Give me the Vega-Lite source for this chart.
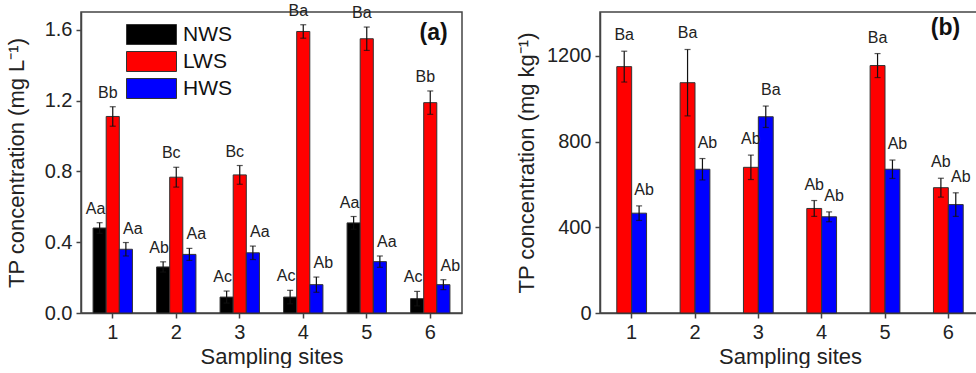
{
  "$schema": "https://vega.github.io/schema/vega-lite/v6.json",
  "padding": {"left": 4, "top": 1, "right": 0, "bottom": 0},
  "background": "white",
  "config": {
    "font": "Liberation Sans",
    "view": {"stroke": "#444", "strokeWidth": 1.5},
    "axis": {
      "labelFont": "Liberation Sans", "titleFont": "Liberation Sans",
      "labelFontSize": 20, "titleFontSize": 22, "titleFontWeight": "normal",
      "labelColor": "#222", "titleColor": "#222",
      "domainColor": "#444", "tickColor": "#444", "domainWidth": 1.5, "tickWidth": 1.5,
      "tickSize": 5, "labelPadding": 4, "grid": false
    },
    "concat": {"spacing": 51}
  },
  "datasets": {
    "a": [
      {"site": "1", "group": "NWS", "v": 0.48, "e": 0.03, "lab": "Aa"},
      {"site": "1", "group": "LWS", "v": 1.11, "e": 0.055, "lab": "Bb"},
      {"site": "1", "group": "HWS", "v": 0.36, "e": 0.038, "lab": "Aa"},
      {"site": "2", "group": "NWS", "v": 0.26, "e": 0.029, "lab": "Ab"},
      {"site": "2", "group": "LWS", "v": 0.767, "e": 0.056, "lab": "Bc"},
      {"site": "2", "group": "HWS", "v": 0.331, "e": 0.034, "lab": "Aa"},
      {"site": "3", "group": "NWS", "v": 0.09, "e": 0.034, "lab": "Ac"},
      {"site": "3", "group": "LWS", "v": 0.78, "e": 0.053, "lab": "Bc"},
      {"site": "3", "group": "HWS", "v": 0.34, "e": 0.038, "lab": "Aa"},
      {"site": "4", "group": "NWS", "v": 0.09, "e": 0.038, "lab": "Ac"},
      {"site": "4", "group": "LWS", "v": 1.59, "e": 0.038, "lab": "Ba"},
      {"site": "4", "group": "HWS", "v": 0.16, "e": 0.043, "lab": "Ab"},
      {"site": "5", "group": "NWS", "v": 0.509, "e": 0.036, "lab": "Aa"},
      {"site": "5", "group": "LWS", "v": 1.549, "e": 0.066, "lab": "Ba"},
      {"site": "5", "group": "HWS", "v": 0.29, "e": 0.032, "lab": "Aa"},
      {"site": "6", "group": "NWS", "v": 0.081, "e": 0.041, "lab": "Ac"},
      {"site": "6", "group": "LWS", "v": 1.188, "e": 0.066, "lab": "Bb"},
      {"site": "6", "group": "HWS", "v": 0.16, "e": 0.028, "lab": "Ab"}
    ],
    "b": [
      {"site": "1", "group": "LWS", "v": 1150, "e": 72, "lab": "Ba"},
      {"site": "1", "group": "HWS", "v": 466, "e": 34, "lab": "Ab"},
      {"site": "2", "group": "LWS", "v": 1075, "e": 155, "lab": "Ba"},
      {"site": "2", "group": "HWS", "v": 671, "e": 50, "lab": "Ab"},
      {"site": "3", "group": "LWS", "v": 680, "e": 57, "lab": "Ab"},
      {"site": "3", "group": "HWS", "v": 916, "e": 50, "lab": "Ba"},
      {"site": "4", "group": "LWS", "v": 488, "e": 37, "lab": "Ab"},
      {"site": "4", "group": "HWS", "v": 449, "e": 23, "lab": "Ab"},
      {"site": "5", "group": "LWS", "v": 1155, "e": 56, "lab": "Ba"},
      {"site": "5", "group": "HWS", "v": 671, "e": 43, "lab": "Ab"},
      {"site": "6", "group": "LWS", "v": 585, "e": 44, "lab": "Ab"},
      {"site": "6", "group": "HWS", "v": 506, "e": 55, "lab": "Ab"}
    ],
    "pa": [{"t": "(a)", "site": "6", "y": 1.58}],
    "pb": [{"t": "(b)", "site": "6", "y": 1330}]
  },
  "resolve": {"scale": {"color": "independent", "xOffset": "independent", "x": "independent", "y": "independent"}},
  "hconcat": [
    {
      "width": 381, "height": 301,
      "data": {"name": "a"},
      "transform": [
        {"calculate": "datum.v - datum.e", "as": "lo"},
        {"calculate": "datum.v + datum.e", "as": "hi"}
      ],
      "encoding": {
        "x": {"field": "site", "type": "nominal", "sort": ["1","2","3","4","5","6"],
              "scale": {"paddingInner": 0.38, "paddingOuter": 0.19},
              "axis": {"title": "Sampling sites", "labelAngle": 0, "titlePadding": 4}},
        "xOffset": {"field": "group", "type": "nominal", "sort": ["NWS","LWS","HWS"],
                    "scale": {"domain": ["NWS","LWS","HWS"], "paddingInner": 0, "paddingOuter": 0}}
      },
      "layer": [
        {
          "mark": {"type": "bar", "stroke": "#333", "strokeWidth": 1},
          "encoding": {
            "y": {"field": "v", "type": "quantitative",
                  "scale": {"domain": [0, 1.7], "nice": false},
                  "axis": {"title": "TP concentration (mg L⁻¹)", "values": [0, 0.4, 0.8, 1.2, 1.6], "format": ".1f", "titlePadding": 16}},
            "color": {"field": "group", "type": "nominal",
                      "scale": {"domain": ["NWS","LWS","HWS"], "range": ["#000000","#ff0000","#0000ff"]},
                      "legend": {"orient": "none", "legendX": 60, "legendY": 12, "title": null,
                                 "symbolType": "M-2.5,-1H2.5V1H-2.5Z", "symbolSize": 400,
                                 "symbolStrokeColor": "#333", "symbolStrokeWidth": 1, "symbolOpacity": 1,
                                 "labelFontSize": 21, "labelFont": "Liberation Sans", "labelColor": "#111",
                                 "rowPadding": 2, "labelOffset": 21}}
          }
        },
        {
          "mark": {"type": "rule", "color": "#111", "strokeWidth": 1.2},
          "encoding": {"y": {"field": "lo", "type": "quantitative"}, "y2": {"field": "hi"}}
        },
        {
          "mark": {"type": "tick", "color": "#111", "thickness": 1.2, "size": 6, "orient": "horizontal"},
          "encoding": {"y": {"field": "hi", "type": "quantitative"}}
        },
        {
          "mark": {"type": "tick", "color": "#111", "thickness": 1.2, "size": 6, "orient": "horizontal"},
          "encoding": {"y": {"field": "lo", "type": "quantitative"}}
        },
        {
          "transform": [{"filter": "datum.group == 'NWS'"}],
          "mark": {"type": "text", "fontSize": 16, "color": "#222", "dy": -9, "dx": -4, "baseline": "alphabetic"},
          "encoding": {"y": {"field": "hi", "type": "quantitative"}, "text": {"field": "lab"}}
        },
        {
          "transform": [{"filter": "datum.group == 'LWS'"}],
          "mark": {"type": "text", "fontSize": 16, "color": "#222", "dy": -9, "dx": -5, "baseline": "alphabetic"},
          "encoding": {"y": {"field": "hi", "type": "quantitative"}, "text": {"field": "lab"}}
        },
        {
          "transform": [{"filter": "datum.group == 'HWS'"}],
          "mark": {"type": "text", "fontSize": 16, "color": "#222", "dy": -9, "dx": 7, "baseline": "alphabetic"},
          "encoding": {"y": {"field": "hi", "type": "quantitative"}, "text": {"field": "lab"}}
        },
        {
          "data": {"name": "pa"},
          "mark": {"type": "text", "fontSize": 23, "fontWeight": "bold", "color": "#111", "dx": 23, "baseline": "middle"},
          "encoding": {
            "x": {"field": "site", "type": "nominal"},
            "xOffset": {"value": 0},
            "y": {"field": "y", "type": "quantitative"},
            "text": {"field": "t"}
          }
        }
      ]
    },
    {
      "width": 380, "height": 301,
      "data": {"name": "b"},
      "transform": [
        {"calculate": "datum.v - datum.e", "as": "lo"},
        {"calculate": "datum.v + datum.e", "as": "hi"}
      ],
      "encoding": {
        "x": {"field": "site", "type": "nominal", "sort": ["1","2","3","4","5","6"],
              "scale": {"paddingInner": 0.53, "paddingOuter": 0.265},
              "axis": {"title": "Sampling sites", "labelAngle": 0, "titlePadding": 4}},
        "xOffset": {"field": "group", "type": "nominal", "sort": ["LWS","HWS"],
                    "scale": {"domain": ["LWS","HWS"], "paddingInner": 0, "paddingOuter": 0}}
      },
      "layer": [
        {
          "mark": {"type": "bar", "stroke": "#333", "strokeWidth": 1},
          "encoding": {
            "y": {"field": "v", "type": "quantitative",
                  "scale": {"domain": [0, 1405], "nice": false},
                  "axis": {"title": "TP concentration (mg kg⁻¹)", "values": [0, 400, 800, 1200], "format": "d", "titlePadding": 8}},
            "color": {"field": "group", "type": "nominal",
                      "scale": {"domain": ["LWS","HWS"], "range": ["#ff0000","#0000ff"]},
                      "legend": null}
          }
        },
        {
          "mark": {"type": "rule", "color": "#111", "strokeWidth": 1.2},
          "encoding": {"y": {"field": "lo", "type": "quantitative"}, "y2": {"field": "hi"}}
        },
        {
          "mark": {"type": "tick", "color": "#111", "thickness": 1.2, "size": 6, "orient": "horizontal"},
          "encoding": {"y": {"field": "hi", "type": "quantitative"}}
        },
        {
          "mark": {"type": "tick", "color": "#111", "thickness": 1.2, "size": 6, "orient": "horizontal"},
          "encoding": {"y": {"field": "lo", "type": "quantitative"}}
        },
        {
          "transform": [{"filter": "datum.group == 'LWS'"}],
          "mark": {"type": "text", "fontSize": 16, "color": "#222", "dy": -11, "dx": 0, "baseline": "alphabetic"},
          "encoding": {"y": {"field": "hi", "type": "quantitative"}, "text": {"field": "lab"}}
        },
        {
          "transform": [{"filter": "datum.group == 'HWS'"}],
          "mark": {"type": "text", "fontSize": 16, "color": "#222", "dy": -11, "dx": 5, "baseline": "alphabetic"},
          "encoding": {"y": {"field": "hi", "type": "quantitative"}, "text": {"field": "lab"}}
        },
        {
          "data": {"name": "pb"},
          "mark": {"type": "text", "fontSize": 23, "fontWeight": "bold", "color": "#111", "dx": 12, "baseline": "middle"},
          "encoding": {
            "x": {"field": "site", "type": "nominal"},
            "xOffset": {"value": 0},
            "y": {"field": "y", "type": "quantitative"},
            "text": {"field": "t"}
          }
        }
      ]
    }
  ]
}
